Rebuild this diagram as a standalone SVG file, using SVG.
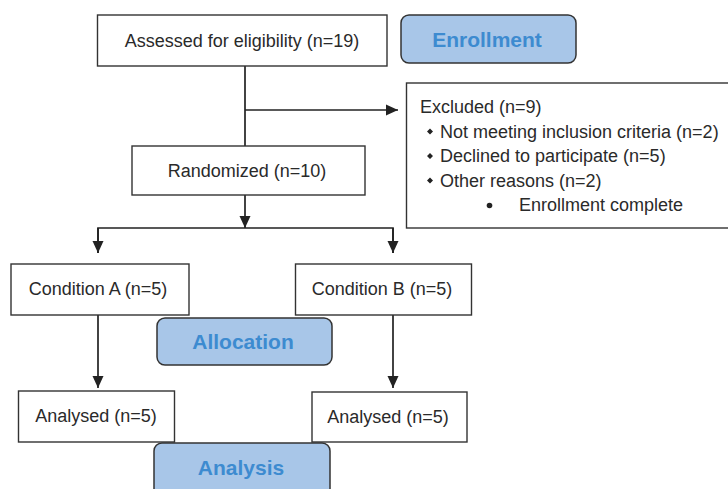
<svg xmlns="http://www.w3.org/2000/svg" width="728" height="489" viewBox="0 0 728 489">
<style>
.box{fill:#fff;stroke:#333;stroke-width:1.4}
.stage{fill:#a8c6e8;stroke:#333;stroke-width:1.5}
.t{font-family:"Liberation Sans",Arial,sans-serif;font-size:18px;fill:#2a2a2a}
.st{font-family:"Liberation Sans",Arial,sans-serif;font-size:21px;font-weight:bold;fill:#3d8bd0;text-anchor:middle}
.c{text-anchor:middle}
.ln{fill:none;stroke:#222;stroke-width:1.7}
</style>
<defs>
<marker id="ah" markerUnits="userSpaceOnUse" markerWidth="12" markerHeight="12" viewBox="0 0 12 12" refX="12" refY="6" orient="auto">
<path d="M0,0.5 L12,6 L0,11.5 Z" fill="#222"/>
</marker>
</defs>
<g id="connectors">
<line class="ln" x1="245" y1="66" x2="245" y2="146"/>
<line class="ln" x1="245" y1="110" x2="398" y2="110" marker-end="url(#ah)"/>
<line class="ln" x1="245" y1="195" x2="245" y2="228" marker-end="url(#ah)"/>
<polyline class="ln" points="98,253 98,228 393,228 393,253"/>
<line class="ln" x1="98" y1="228" x2="98" y2="253" marker-end="url(#ah)"/>
<line class="ln" x1="393" y1="228" x2="393" y2="253" marker-end="url(#ah)"/>
<line class="ln" x1="98" y1="315" x2="98" y2="388" marker-end="url(#ah)"/>
<line class="ln" x1="393" y1="315" x2="393" y2="388" marker-end="url(#ah)"/>
</g>
<g id="assessed">
<rect class="box" x="97.5" y="15" width="289.5" height="51"/>
<text class="t c" x="242" y="47">Assessed for eligibility (n=19)</text>
</g>
<g id="enrollment">
<rect class="stage" x="401" y="15" width="175" height="48" rx="8"/>
<text class="st" x="487" y="46.5">Enrollment</text>
</g>
<g id="excluded">
<rect class="box" x="406.5" y="83" width="340" height="145"/>
<text class="t" x="420" y="113">Excluded (n=9)</text>
<path d="M427,131.5 l3,-3 3,3 -3,3Z M427,156 l3,-3 3,3 -3,3Z M427,180.5 l3,-3 3,3 -3,3Z" fill="#222"/>
<text class="t" x="440" y="137.5">Not meeting inclusion criteria (n=2)</text>
<text class="t" x="440" y="162">Declined to participate (n=5)</text>
<text class="t" x="440" y="186.5">Other reasons (n=2)</text>
<circle cx="489.5" cy="205.5" r="2.8" fill="#222"/>
<text class="t" x="519" y="211">Enrollment complete</text>
</g>
<g id="randomized">
<rect class="box" x="132" y="146" width="233" height="49"/>
<text class="t c" x="247" y="177">Randomized (n=10)</text>
</g>
<g id="conditionA">
<rect class="box" x="11" y="264" width="178" height="51"/>
<text class="t c" x="98" y="295">Condition A (n=5)</text>
</g>
<g id="conditionB">
<rect class="box" x="295.5" y="264" width="176" height="51"/>
<text class="t c" x="382" y="295">Condition B (n=5)</text>
</g>
<g id="allocation">
<rect class="stage" x="157" y="318" width="175" height="47" rx="8"/>
<text class="st" x="243" y="348.5">Allocation</text>
</g>
<g id="analysedA">
<rect class="box" x="18.5" y="391" width="156" height="51"/>
<text class="t c" x="96" y="422">Analysed (n=5)</text>
</g>
<g id="analysedB">
<rect class="box" x="312" y="392" width="155" height="50"/>
<text class="t c" x="388" y="423">Analysed (n=5)</text>
</g>
<g id="analysis">
<rect class="stage" x="154" y="443" width="176" height="60" rx="8"/>
<text class="st" x="241" y="475">Analysis</text>
</g>
</svg>
